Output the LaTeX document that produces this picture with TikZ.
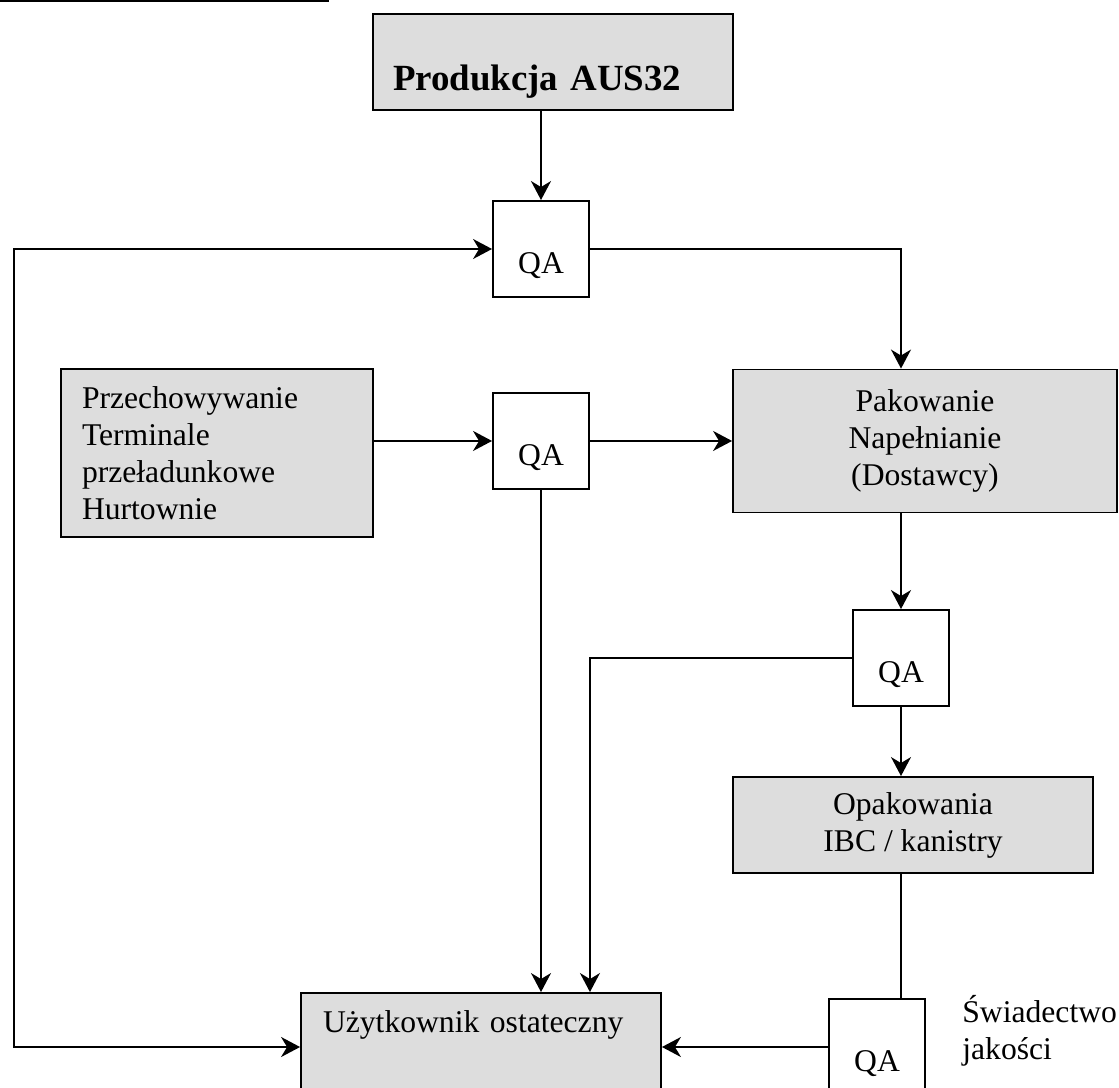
\documentclass[tikz,border=0pt]{standalone}
\usepackage{fontspec}
\setmainfont{Liberation Serif}
\usepackage{tikz}
\usetikzlibrary{arrows.meta}
\definecolor{boxgray}{RGB}{221,221,221}
\tikzset{
    >={Stealth[length=0.38cm,width=0.4cm,inset=0.12cm]}, % filled arrow heads
    every node/.style={font=\fontsize{18}{21}\selectfont},
    flow/.style={line width=1pt}, % connectors
    block/.style={draw, line width=1.1pt, fill=boxgray, inner ysep=0pt}, % grey stages
    qa/.style={draw, line width=1.1pt, fill=white, minimum width=1.92cm, minimum height=1.92cm,
        text height=28pt, text depth=0pt, inner sep=0pt}, % quality check boxes
    }

\begin{document}
\begin{tikzpicture}[x=0.02cm, y=-0.02cm]
            \useasboundingbox (0,0) rectangle (1119,1088);
            \clip (0,0) rectangle (1119,1088);
            \draw[line width=1.4pt] (0,1) -- (329,1);
            % stages
            \node[block, align=left, text width=6.4cm, inner xsep=0.4cm, minimum height=1.92cm,
                text height=33pt, text depth=0pt, font=\fontsize{21}{25}\selectfont\bfseries]
                (prod) at (553,62) {Produkcja AUS32};
            \node[block, align=left, text width=5.4cm, inner xsep=0.42cm, minimum height=3.36cm]
                (store) at (217,453) {Przechowywanie\\Terminale\\przeładunkowe\\Hurtownie};
            \node[block, align=center, minimum width=7.68cm, minimum height=2.86cm]
                (pack) at (925,441) {Pakowanie\\Napełnianie\\(Dostawcy)};
            \node[block, align=center, minimum width=7.2cm, minimum height=1.92cm]
                (cont) at (913,825) {Opakowania\\IBC / kanistry};
            \node[block, align=left, text width=6.32cm, inner xsep=0.44cm, minimum height=2.16cm,
                text height=12pt, text depth=28pt]
                (user) at (481,1047) {Użytkownik ostateczny};
            % quality checks
            \node[qa] (q1) at (541,249) {QA};
            \node[qa, below of=q1, node distance=3.84cm] (q2) {QA};
            \node[qa] (q3) at (901,658) {QA};
            \node[qa] (q4) at (877,1047) {QA};
            \node[align=left, anchor=west, inner sep=0pt] (cert) at (962,1031) {Świadectwo\\jakości};
            \coordinate (lft) at (14,649);
            % connectors
            \draw[flow, ->] (q1 |- prod.south) -- (q1.north);
            \draw[flow, ->] (q1.east) -| (q3 |- pack.north);
            \draw[flow, ->] (store.east |- q2) -- (q2.west);
            \draw[flow, ->] (q2.east) -- (q2.east -| pack.west);
            \draw[flow, ->] (q2.south) -- (q2 |- user.north);
            \draw[flow, ->] (q3 |- pack.south) -- (q3.north);
            \draw[flow, ->] (q3.west) -| (q2.east |- user.north);
            \draw[flow, ->] (q3.south) -- (q3 |- cont.north);
            \draw[flow] (q3 |- cont.south) -- (q3 |- q4.north);
            \draw[flow, ->] (q4.west) -- (q4.west -| user.east);
            \draw[flow, <->] (q1.west) -- (q1.west -| lft) |- (user.west);
            \end{tikzpicture}
\end{document}
